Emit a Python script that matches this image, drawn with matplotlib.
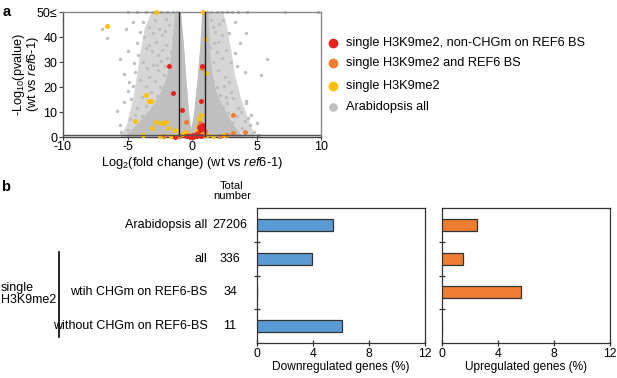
import matplotlib
matplotlib.use("Agg")
import matplotlib.pyplot as plt
import matplotlib.transforms as mtransforms
from matplotlib.lines import Line2D
import numpy as np

plt.rcParams['font.family'] = ['Liberation Sans', 'DejaVu Sans']
plt.rcParams['mathtext.fontset'] = 'custom'
plt.rcParams['mathtext.rm'] = 'Liberation Sans'
plt.rcParams['mathtext.it'] = 'Liberation Sans:italic'
plt.rcParams['mathtext.bf'] = 'Liberation Sans:bold'

# ---------------- Panel a data (volcano) ----------------
# solid dense cloud envelope
dense_y = [0, 1.5, 3.5, 7, 11, 17.5, 24, 31, 37.5, 44, 50]
dense_left_outer = [-5.2, -5.0, -4.6, -4.0, -3.3, -2.5, -2.0, -1.7, -1.55, -1.45, -1.35]
dense_left_inner = [0.0, 0.0, -0.1, -0.2, -0.29, -0.38, -0.49, -0.58, -0.67, -0.78, -0.88]
dense_right_inner = [0.0, 0.0, -0.1, 0.05, 0.16, 0.28, 0.41, 0.52, 0.62, 0.69, 0.75]
dense_right_outer = [4.0, 3.7, 3.4, 2.95, 2.5, 1.9, 1.6, 1.4, 1.35, 1.3, 1.25]

# medium-density halo envelope
mid_y = [0, 5, 15, 25, 35, 44, 50]
mid_left = [-5.6, -5.1, -4.6, -4.3, -4.0, -3.7, -3.2]
mid_right = [4.9, 4.5, 3.8, 3.3, 3.0, 2.7, 2.4]

gray_x = [-7.0, -6.6, -5.6, -4.95, -5.1, -4.6, -4.3, -4.05, -3.8, -3.7, -3.55, -3.3, -3.05, -2.8,
          -2.65, -2.55, -2.3, -2.0, -1.77, -1.65, -1.5, -5.3, -4.45, -3.8, -3.05, -4.95, -4.7, -4.3,
          -4.8, -4.05, -3.55, -3.3, -2.9, -2.6, -2.4, -2.2, -3.9, -3.6, -3.2, -2.7, -2.5, -4.4, -3.9,
          -5.6, -5.0, -4.9, -5.5, -2.0, -1.9, -2.1, -1.8, -3.4, -2.45,
          -5.8, -5.3, -4.9, -4.5, -4.2, -3.5, -3.1, -2.7, -2.3, -4.6, -4.0, -3.3, -2.9, -2.1,
          2.43, 3.3, 4.2, 2.9, 2.3, 3.7, 2.05, 1.9, 5.85, 3.45, 4.1, 5.35, 2.3, 2.55, 1.65, 1.66,
          1.9, 2.7, 3.6, 4.2, 2.8, 4.1, 3.1, 3.2, 4.2, 4.35, 4.5, 2.2, 2.5, 3.0, 2.0, 1.6, 1.8, 1.5,
          2.6, 3.9, 4.8, 5.2, 3.5, 2.4, 1.4, 1.7, 3.8, 2.9, 3.3, 2.1, 4.6, 5.0, 3.0, 2.6,
          -5.0, -4.3, -3.6, -3.0, -2.4, -1.9, -1.5, -1.2, 1.2, 1.5, 1.9, 2.3, 2.7, 3.1, 3.6, 4.3, 7.2, 9.8]
gray_y = [43.5, 39.8, 31.2, 34.5, 43.5, 46.2, 37.5, 42.2, 46.2, 40.2, 35.5, 44.2, 41.5, 38.2,
          32.8, 43.5, 40.8, 36.8, 44.9, 34.1, 39.5, 25.4, 26.1, 30.1, 28.8, 18.5, 15.2, 11.8,
          7.1, 5.8, 20.6, 24.0, 22.5, 27.0, 30.5, 25.0, 16.0, 12.5, 18.0, 16.5, 20.0, 9.0, 8.5,
          5.0, 3.0, 1.0, 2.0, 47.5, 31.5, 28.5, 26.5, 9.5, 12.0,
          10.5, 14.0, 22.0, 29.5, 33.0, 27.5, 34.5, 29.0, 34.8, 20.5, 23.0, 37.0, 47.0, 42.5,
          46.9, 46.2, 41.9, 41.5, 40.8, 37.5, 38.2, 34.1, 31.2, 28.5, 26.1, 24.7, 31.5, 24.1, 30.1, 22.6,
          19.9, 13.8, 11.8, 13.6, 9.8, 6.5, 5.8, 15.8, 14.5, 7.8, 4.9, 17.0, 20.5, 18.0, 27.0, 44.0, 42.0, 47.0,
          35.0, 3.5, 2.0, 1.0, 8.5, 12.0, 36.0, 37.5, 10.0, 22.0, 33.5, 45.5, 9.0, 5.5, 30.0, 16.0,
          50, 50, 50, 50, 50, 50, 50, 50, 50, 50, 50, 50, 50, 50, 50, 50, 50, 50]

yellow_x = [-6.6, -2.8, 0.88, 1.0, 1.12, -3.55, -3.35, -3.2, -4.45, -2.8, -2.35, -2.0, -3.1, -1.84,
            -1.3, 0.67, 0.55, 0.45, 0.35, -0.45, -0.8, 0.7, 1.2, -2.5, -3.8, 1.6, 2.5, 0.2, -1.6]
yellow_y = [44.4, 50, 50, 39.2, 25.5, 16.9, 14.3, 14.6, 6.5, 5.9, 5.6, 5.9, 3.8, 3.5,
            2.8, 8.8, 7.3, 4.6, 2.6, 2.1, 1.2, 1.8, 1.0, 0.6, 1.0, 0.4, 0.8, 0.3, 0.5]

orange_x = [-0.47, 0.36, 3.15, 3.2, 4.1, 2.7, 0.8, -1.0, -0.2, 0.9, 2.2, -2.2, 0.6, 1.0]
orange_y = [6.1, 1.5, 8.7, 1.5, 1.9, 0.9, 27.6, 0.5, 0.8, 1.0, 0.4, 0.3, 5.8, 2.5]

red_x = [-1.8, -1.5, -0.75, 0.75, 0.72, 0.55, 0.68, 0.82, 0.85, 0.6, -0.3, -0.1, 0.05, 0.2, 0.35,
         0.5, -0.5, 0.1, 0.4, -1.3, 0.7, -0.15]
red_y = [28.4, 17.8, 10.7, 28.6, 14.5, 4.2, 4.6, 4.9, 3.2, 3.0, 0.3, 0.6, 0.2, 0.5, 0.3,
         0.8, 0.4, 1.0, 1.2, 0.2, 0.4, 0.1]

fc_threshold = 1.0
p_threshold = 1.0

legend_labels = ["single H3K9me2, non-CHGm on REF6 BS", "single H3K9me2 and REF6 BS",
                 "single H3K9me2", "Arabidopsis all"]

# ---------------- Panel b data ----------------
categories = ["Arabidopsis all", "all", "wtih CHGm on REF6-BS", "without CHGm on REF6-BS"]
totals = ["27206", "336", "34", "11"]
down_pct = [5.47, 3.92, 0.0, 6.08]
up_pct = [2.46, 1.50, 5.63, 0.0]

C_RED = '#E8231F'
C_ORANGE = '#EE7D31'
C_YELLOW = '#FFC000'
C_GRAY = '#BFBFBF'
C_MID = '#D6D6D6'
C_BLUE = '#5B9BD5'

W, H = 617, 378
fig = plt.figure(figsize=(W / 100, H / 100), dpi=100)


def fx(px):
    return px / W


def fy(py):
    return 1 - py / H


# ---------------- Volcano ----------------
axv = fig.add_axes([fx(63), fy(137), (321 - 63) / W, (137 - 12.3) / H])
axv.fill_betweenx(mid_y, mid_left, 0, color=C_MID, lw=0, zorder=0.5)
axv.fill_betweenx(mid_y, 0, mid_right, color=C_MID, lw=0, zorder=0.5)
axv.fill_betweenx(dense_y, dense_left_inner, dense_right_inner, color='white', lw=0, zorder=0.8)
axv.fill_betweenx(dense_y, dense_left_outer, dense_left_inner, color=C_GRAY, lw=0, zorder=1)
axv.fill_betweenx(dense_y, dense_right_inner, dense_right_outer, color=C_GRAY, lw=0, zorder=1)
axv.scatter(gray_x, gray_y, s=6, color=C_GRAY, lw=0, zorder=2, clip_on=False)
axv.scatter(yellow_x, yellow_y, s=13, color=C_YELLOW, lw=0, zorder=3, clip_on=False)
axv.scatter(orange_x, orange_y, s=13, color=C_ORANGE, lw=0, zorder=4, clip_on=False)
axv.scatter(red_x, red_y, s=13, color=C_RED, lw=0, zorder=5, clip_on=False)
axv.axvline(-fc_threshold, color='#222222', lw=1.0, zorder=6)
axv.axvline(fc_threshold, color='#222222', lw=1.0, zorder=6)
axv.axhline(p_threshold, color='#555555', lw=1.0, zorder=6)
axv.set_xlim(-10, 10)
axv.set_ylim(0, 50)
axv.set_xticks([-10, -5, 0, 5, 10])
axv.set_xticklabels(['-10', '-5', '0', '5', '10'])
axv.set_yticks([0, 10, 20, 30, 40, 50])
axv.set_yticklabels(['0', '10', '20', '30', '40', '50≤'])
axv.tick_params(axis='both', labelsize=9, length=3, width=0.8, color='#444444', pad=1)
axv.tick_params(axis='x', direction='inout', length=4, pad=1)
for sp in axv.spines.values():
    sp.set_color('#888888')
    sp.set_linewidth(1.0)
axv.spines['bottom'].set_color('#444444')
axv.spines['left'].set_color('#555555')
axv.set_xlabel(r"Log$_2$(fold change) (wt vs $\it{ref6}$-$\it{1}$)", fontsize=9.3, labelpad=1)
axv.set_ylabel("-Log$_{10}$(pvalue)\n(wt vs $\\it{ref6}$-$\\it{1}$)", fontsize=9.2, labelpad=-3,
               linespacing=0.85)

# legend (manual)
leg_rows = [42.7, 63.3, 86.0, 107.3]
leg_colors = [C_RED, C_ORANGE, C_YELLOW, C_GRAY]
leg_sizes = [6.0, 6.0, 6.0, 5.2]
for yy, lab, col, ms in zip(leg_rows, legend_labels, leg_colors, leg_sizes):
    fig.add_artist(Line2D([fx(333)], [fy(yy)], marker='o', ms=ms, color=col, lw=0,
                          transform=fig.transFigure))
    fig.text(fx(346.5), fy(yy), lab, fontsize=9.2, va='center', ha='left')

fig.text(fx(3), fy(11.5), 'a', fontsize=10.5, fontweight='bold', va='center', ha='left')
fig.text(fx(1), fy(187), 'b', fontsize=10.5, fontweight='bold', va='center', ha='left')

# ---------------- Bars ----------------
pos = np.arange(len(categories))
ax1 = fig.add_axes([fx(256.7), fy(342.7), (425 - 256.7) / W, (342.7 - 208.3) / H])
ax2 = fig.add_axes([fx(442.3), fy(342.7), (610 - 442.3) / W, (342.7 - 208.3) / H])
for ax, vals, col, lab in [(ax1, down_pct, C_BLUE, "Downregulated genes (%)"),
                           (ax2, up_pct, C_ORANGE, "Upregulated genes (%)")]:
    ax.barh(pos, vals, height=0.35, color=col, edgecolor='#333333', linewidth=0.9, zorder=3)
    ax.set_xlim(0, 12)
    ax.set_ylim(len(categories) - 0.5, -0.5)
    ax.set_xticks([0, 4, 8, 12])
    ax.set_yticks(pos[:-1] + 0.5)
    ax.set_yticklabels([])
    ax.tick_params(axis='both', direction='inout', length=5, width=0.9, color='#333333',
                   labelsize=8.8, pad=1)
    for sp in ax.spines.values():
        sp.set_color('#333333')
        sp.set_linewidth(0.9)
    ax.set_xlabel(lab, fontsize=8.6, labelpad=1)

trans = mtransforms.blended_transform_factory(fig.transFigure, ax1.transData)
for p, cat, tot in zip(pos, categories, totals):
    fig.text(fx(207.7), p, cat, transform=trans, fontsize=9, ha='right', va='center')
    fig.text(fx(230), p, tot, transform=trans, fontsize=9, ha='center', va='center')

fig.text(fx(232), fy(191), "Total\nnumber", fontsize=8, ha='center', va='center', linespacing=1.1)
fig.text(fx(1), fy(294), "single\nH3K9me2", fontsize=9, ha='left', va='center', linespacing=0.95)
fig.add_artist(Line2D([fx(59), fx(59)], [0.79, 3.32], color='black', lw=1.2, transform=trans,
                      clip_on=False))

fig.savefig('out.png', dpi=100)
